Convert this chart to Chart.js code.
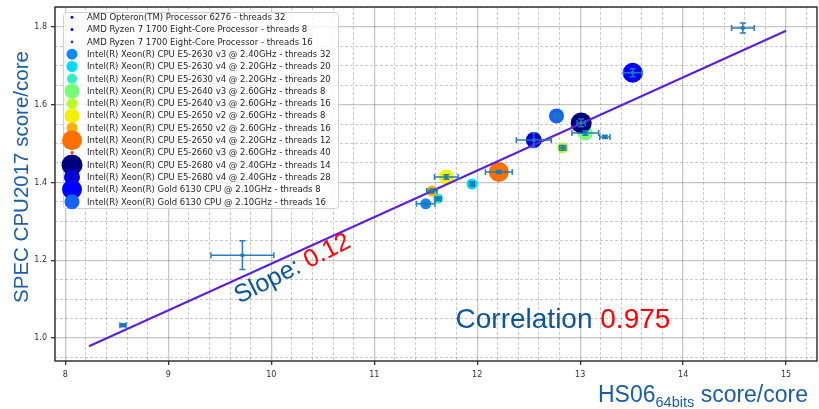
<!DOCTYPE html>
<html>
<head>
<meta charset="utf-8">
<script src="https://cdn.jsdelivr.net/npm/chart.js@4.4.1/dist/chart.umd.min.js"></script>
<style>
html, body { margin: 0; padding: 0; background: #fff; }
</style>
</head>
<body>
<canvas id="chart" width="819" height="409"></canvas>
<script>
// CPU names (legend order)
const cpuLabels = [
    "AMD Opteron(TM) Processor 6276 - threads 32",
    "AMD Ryzen 7 1700 Eight-Core Processor - threads 8",
    "AMD Ryzen 7 1700 Eight-Core Processor - threads 16",
    "Intel(R) Xeon(R) CPU E5-2630 v3 @ 2.40GHz - threads 32",
    "Intel(R) Xeon(R) CPU E5-2630 v4 @ 2.20GHz - threads 20",
    "Intel(R) Xeon(R) CPU E5-2630 v4 @ 2.20GHz - threads 20",
    "Intel(R) Xeon(R) CPU E5-2640 v3 @ 2.60GHz - threads 8",
    "Intel(R) Xeon(R) CPU E5-2640 v3 @ 2.60GHz - threads 16",
    "Intel(R) Xeon(R) CPU E5-2650 v2 @ 2.60GHz - threads 8",
    "Intel(R) Xeon(R) CPU E5-2650 v2 @ 2.60GHz - threads 16",
    "Intel(R) Xeon(R) CPU E5-2650 v4 @ 2.20GHz - threads 12",
    "Intel(R) Xeon(R) CPU E5-2660 v3 @ 2.60GHz - threads 40",
    "Intel(R) Xeon(R) CPU E5-2680 v4 @ 2.40GHz - threads 14",
    "Intel(R) Xeon(R) CPU E5-2680 v4 @ 2.40GHz - threads 28",
    "Intel(R) Xeon(R) Gold 6130 CPU @ 2.10GHz - threads 8",
    "Intel(R) Xeon(R) Gold 6130 CPU @ 2.10GHz - threads 16"
];
// HS06 score/core (x) and SPEC CPU2017 score/core (y)
const hs06    = [8.56, 14.58, 13.24, 11.50, 11.95, 11.62, 13.05, 12.83, 11.70, 11.56, 12.21, 9.72, 13.01, 12.55, 13.51, 12.77];
const spec    = [1.033, 1.797, 1.517, 1.345, 1.396, 1.358, 1.527, 1.489, 1.414, 1.378, 1.427, 1.213, 1.553, 1.509, 1.682, 1.571];
const hs06Err = [0.03, 0.11, 0.05, 0.09, 0.02, 0.03, 0.13, 0.03, 0.115, 0.05, 0.13, 0.305, 0.04, 0.17, 0.09, 0.03];
const specErr = [0.004, 0.013, 0.004, 0.004, 0.005, 0.005, 0.006, 0.006, 0.006, 0.005, 0.004, 0.037, 0.01, 0.019, 0.01, 0.006];
const markerColors = ["#1010c8", "#0000ff", "#0a3cff", "#0a8cff", "#00dcf8", "#2ef0c4", "#78ff78", "#b8ff2a", "#f2f200", "#ffb000", "#ff7000", "#ff2a00", "#00007e", "#0000d2", "#0000ff", "#1562ff"];
const markerRadius = [1.5, 1.5, 1.3, 5.5, 5.5, 5, 7.5, 5.5, 7.5, 5.5, 10, 1.5, 10.5, 8, 10, 7.5];

// linear fit
const fitX = [8.23, 15.0];
const fitY = [0.979, 1.79];

const xTickLabels = [8, 9, 10, 11, 12, 13, 14, 15];
const yTickLabels = [1.0, 1.2, 1.4, 1.6, 1.8];

// grid positions (major + minor)
const xGrid = [], yGrid = [];
for (let k = 40; k <= 76; k++) xGrid.push(k / 5);    // 8.0 .. 15.2 step 0.2
for (let k = 19; k <= 37; k++) yGrid.push(k / 20);   // 0.95 .. 1.85 step 0.05

const near = (v, list) => list.some(t => Math.abs(v - t) < 1e-6);
const isMult = (v, step) => Math.abs(v / step - Math.round(v / step)) < 1e-6;

const MAJOR = "rgba(0,0,0,0.22)";
const MINOR = "rgba(0,0,0,0.26)";
const BLUE_TXT = "#1a5ea6";

const datasets = cpuLabels.map((label, i) => ({
    type: "scatter",
    label: label,
    data: [{ x: hs06[i], y: spec[i] }],
    backgroundColor: markerColors[i],
    borderWidth: 0,
    pointRadius: markerRadius[i],
    order: 100 - i
}));
datasets.push({
    type: "line",
    label: "fit",
    data: fitX.map((x, i) => ({ x: x, y: fitY[i] })),
    borderColor: "#5a1fe0",
    borderWidth: 2,
    pointRadius: 0,
    fill: false,
    order: 0
});

// barres d'erreur
const errorBars = {
    id: "errorBars",
    afterDatasetsDraw(chart) {
        const ctx = chart.ctx, xs = chart.scales.x, ys = chart.scales.y;
        ctx.save();
        ctx.strokeStyle = "rgba(31,119,180,0.95)";
        ctx.fillStyle = "rgba(31,119,180,0.95)";
        ctx.lineWidth = 1.5;
        hs06.forEach((v, i) => {
            const px = xs.getPixelForValue(v), py = ys.getPixelForValue(spec[i]);
            const x0 = xs.getPixelForValue(v - hs06Err[i]), x1 = xs.getPixelForValue(v + hs06Err[i]);
            const y0 = ys.getPixelForValue(spec[i] - specErr[i]), y1 = ys.getPixelForValue(spec[i] + specErr[i]);
            const c = 3;
            ctx.beginPath();
            ctx.moveTo(x0, py); ctx.lineTo(x1, py);
            ctx.moveTo(px, y0); ctx.lineTo(px, y1);
            ctx.moveTo(x0, py - c); ctx.lineTo(x0, py + c);
            ctx.moveTo(x1, py - c); ctx.lineTo(x1, py + c);
            ctx.moveTo(px - c, y0); ctx.lineTo(px + c, y0);
            ctx.moveTo(px - c, y1); ctx.lineTo(px + c, y1);
            ctx.stroke();
            ctx.fillRect(px - 2, py - 1.5, 4, 3);
        });
        ctx.restore();
    }
};

// cadre, titres, annotations, légende
const decorations = {
    id: "decorations",
    afterDraw(chart) {
        const ctx = chart.ctx, a = chart.chartArea;
        const xs = chart.scales.x, ys = chart.scales.y;
        ctx.save();

        // frame
        ctx.strokeStyle = "#333";
        ctx.lineWidth = 1.5;
        ctx.strokeRect(a.left, a.top, a.right - a.left, a.bottom - a.top);

        // y title
        ctx.save();
        ctx.translate(28, 177);
        ctx.rotate(-Math.PI / 2);
        ctx.font = "20.5px 'Liberation Sans', Arial, sans-serif";
        ctx.fillStyle = BLUE_TXT;
        ctx.textAlign = "center";
        ctx.textBaseline = "alphabetic";
        ctx.fillText("SPEC CPU2017 score/core", 0, 0);
        ctx.restore();

        // x title (right aligned)
        ctx.textBaseline = "alphabetic";
        ctx.textAlign = "left";
        ctx.fillStyle = BLUE_TXT;
        const big = "23px 'Liberation Sans', Arial, sans-serif";
        const small = "14.5px 'Liberation Sans', Arial, sans-serif";
        ctx.font = big;
        const w1 = ctx.measureText("HS06").width;
        const w3 = ctx.measureText(" score/core").width;
        ctx.font = small;
        const w2 = ctx.measureText("64bits").width;
        let tx = 808 - (w1 + w2 + w3);
        ctx.font = big;
        ctx.fillText("HS06", tx, 402);
        ctx.font = small;
        ctx.fillText("64bits", tx + w1, 407);
        ctx.font = big;
        ctx.fillText(" score/core", tx + w1 + w2, 402);

        // correlation
        ctx.font = "28px 'Liberation Sans', Arial, sans-serif";
        const cx = xs.getPixelForValue(11.79), cy = ys.getPixelForValue(1.027);
        ctx.fillStyle = "#0b559b";
        ctx.fillText("Correlation ", cx, cy);
        const cw = ctx.measureText("Correlation ").width;
        ctx.fillStyle = "#ff0000";
        ctx.fillText("0.975", cx + cw, cy);

        // slope
        ctx.save();
        ctx.translate(xs.getPixelForValue(9.69), ys.getPixelForValue(1.088));
        ctx.rotate(-27 * Math.PI / 180);
        ctx.font = "25px 'Liberation Sans', Arial, sans-serif";
        ctx.fillStyle = "#0b559b";
        ctx.fillText("Slope: ", 0, 0);
        const sw = ctx.measureText("Slope: ").width;
        ctx.fillStyle = "#ff0000";
        ctx.fillText("0.12", sw, 0);
        ctx.restore();

        // legend
        const lx = 63, ly = 12, lw = 275, lh = 196;
        ctx.fillStyle = "rgba(255,255,255,0.8)";
        ctx.strokeStyle = "#d0d0d0";
        ctx.lineWidth = 1;
        ctx.beginPath();
        ctx.roundRect(lx + 0.5, ly + 0.5, lw, lh, 3);
        ctx.fill();
        ctx.stroke();
        ctx.font = "8.5px 'DejaVu Sans', sans-serif";
        ctx.textBaseline = "middle";
        ctx.textAlign = "left";
        chart.data.datasets.forEach((ds, i) => {
            if (ds.type !== "scatter") return;
            const ry = 17.3 + i * 12.3;
            ctx.fillStyle = ds.backgroundColor;
            ctx.beginPath();
            ctx.arc(72, ry, ds.pointRadius, 0, Math.PI * 2);
            ctx.fill();
            ctx.fillStyle = "#262626";
            ctx.fillText(ds.label, 87, ry + 0.5);
        });
        ctx.restore();
    }
};

new Chart(document.getElementById("chart"), {
    type: "scatter",
    data: { datasets: datasets },
    options: {
        responsive: false,
        animation: false,
        layout: { autoPadding: false, padding: { left: 0, top: 7, right: 2, bottom: 0 } },
        plugins: {
            legend: { display: false },
            tooltip: { enabled: false }
        },
        scales: {
            x: {
                type: "linear",
                min: 7.9,
                max: 15.3,
                afterBuildTicks(scale) { scale.ticks = xGrid.map(v => ({ value: v })); },
                afterFit(scale) {
                    scale.height = 48;
                    scale.paddingLeft = 0;
                    scale.paddingRight = 0;
                },
                ticks: {
                    autoSkip: false,
                    maxRotation: 0,
                    minRotation: 0,
                    padding: 5,
                    color: "#333",
                    font: { family: "'DejaVu Sans', sans-serif", size: 8 },
                    callback: v => near(v, xTickLabels) ? String(Math.round(v)) : ""
                },
                grid: {
                    color: c => isMult(c.tick.value, 1) ? MAJOR : MINOR,
                    lineWidth: c => isMult(c.tick.value, 1) ? 1.3 : 0.8,
                    tickColor: c => near(c.tick.value, xTickLabels) ? "#333" : "transparent",
                    tickLength: 4
                },
                border: { display: false, dash: c => isMult(c.tick.value, 1) ? [] : [3, 2] }
            },
            y: {
                type: "linear",
                min: 0.941,
                max: 1.851,
                afterBuildTicks(scale) { scale.ticks = yGrid.map(v => ({ value: v })); },
                afterFit(scale) {
                    scale.width = 55;
                    scale.paddingTop = 0;
                    scale.paddingBottom = 0;
                },
                ticks: {
                    autoSkip: false,
                    padding: 4,
                    color: "#333",
                    font: { family: "'DejaVu Sans', sans-serif", size: 8 },
                    callback: v => near(v, yTickLabels) ? v.toFixed(1) : ""
                },
                grid: {
                    color: c => isMult(c.tick.value, 0.2) ? MAJOR : MINOR,
                    lineWidth: c => isMult(c.tick.value, 0.2) ? 1.3 : 0.8,
                    tickColor: c => near(c.tick.value, yTickLabels) ? "#333" : "transparent",
                    tickLength: 4
                },
                border: { display: false, dash: c => isMult(c.tick.value, 0.2) ? [] : [3, 2] }
            }
        }
    },
    plugins: [errorBars, decorations]
});
</script>
</body>
</html>
